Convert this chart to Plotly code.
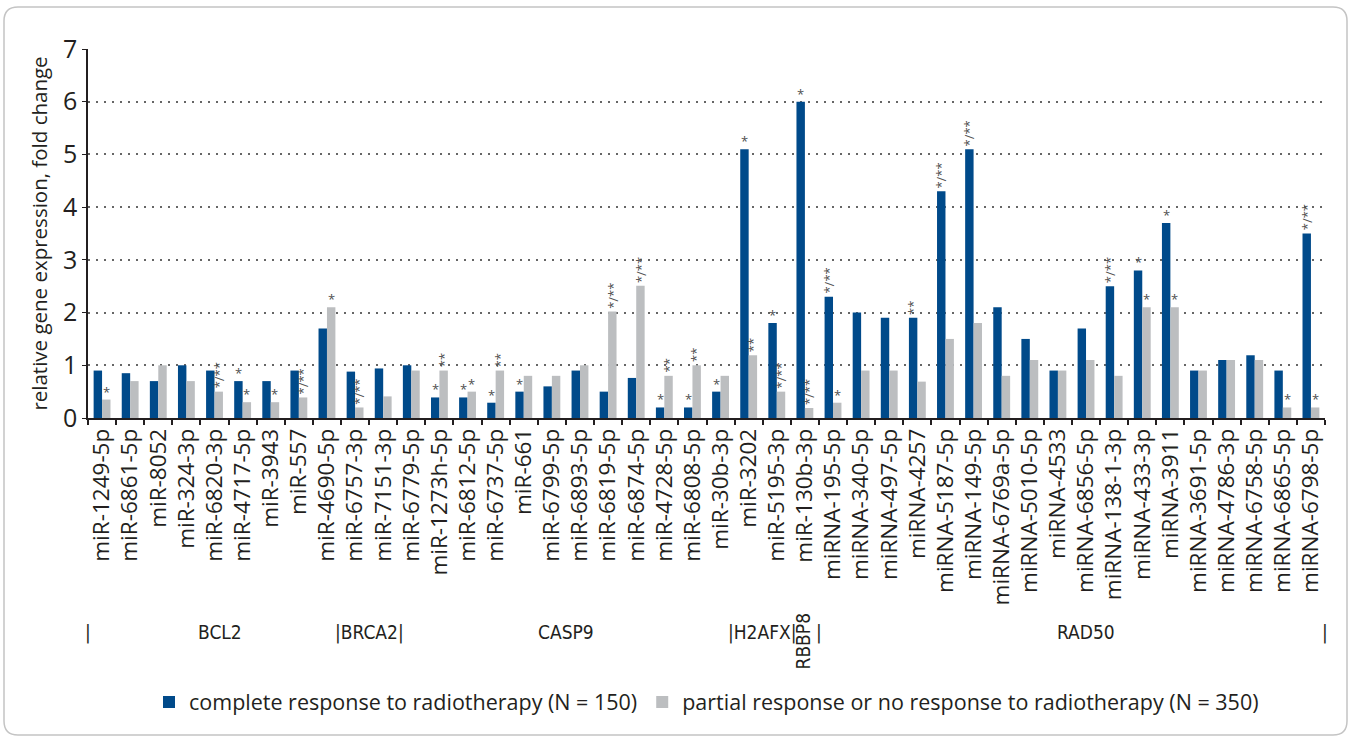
import plotly.graph_objects as go

# microRNAs, in plotting order (grouped by target gene)
mirnas = [
    "miR-1249-5p", "miR-6861-5p", "miR-8052", "miR-324-3p", "miR-6820-3p",
    "miR-4717-5p", "miR-3943", "miR-557", "miR-4690-5p", "miR-6757-3p",
    "miR-7151-3p", "miR-6779-5p", "miR-1273h-5p", "miR-6812-5p", "miR-6737-5p",
    "miR-661", "miR-6799-5p", "miR-6893-5p", "miR-6819-5p", "miR-6874-5p",
    "miR-4728-5p", "miR-6808-5p", "miR-30b-3p", "miR-3202", "miR-5195-3p",
    "miR-130b-3p", "miRNA-195-5p", "miRNA-340-5p", "miRNA-497-5p", "miRNA-4257",
    "miRNA-5187-5p", "miRNA-149-5p", "miRNA-6769a-5p", "miRNA-5010-5p", "miRNA-4533",
    "miRNA-6856-5p", "miRNA-138-1-3p", "miRNA-433-3p", "miRNA-3911", "miRNA-3691-5p",
    "miRNA-4786-3p", "miRNA-6758-5p", "miRNA-6865-5p", "miRNA-6798-5p",
]

# relative gene expression (fold change)
complete_resp = [
    0.9, 0.85, 0.7, 1.0, 0.9, 0.7, 0.7, 0.9, 1.7, 0.88,
    0.94, 1.0, 0.39, 0.39, 0.29, 0.5, 0.6, 0.9, 0.5, 0.76,
    0.2, 0.2, 0.5, 5.1, 1.8, 6.0, 2.3, 2.0, 1.9, 1.9,
    4.3, 5.1, 2.1, 1.5, 0.9, 1.7, 2.5, 2.8, 3.7, 0.9,
    1.1, 1.19, 0.9, 3.5,
]
partial_resp = [
    0.35, 0.7, 1.0, 0.7, 0.5, 0.3, 0.3, 0.39, 2.1, 0.2,
    0.41, 0.9, 0.9, 0.5, 0.9, 0.8, 0.8, 1.0, 2.02, 2.51,
    0.8, 1.0, 0.8, 1.19, 0.5, 0.19, 0.29, 0.9, 0.9, 0.69,
    1.5, 1.8, 0.8, 1.1, 0.9, 1.1, 0.8, 2.1, 2.1, 0.9,
    1.1, 1.1, 0.2, 0.2,
]

# significance marks: (microRNA, series, mark)
marks = [
    ("miR-1249-5p", "p", "*"),
    ("miR-6820-3p", "p", "*/**"),
    ("miR-4717-5p", "c", "*"), ("miR-4717-5p", "p", "*"),
    ("miR-3943", "p", "*"),
    ("miR-557", "p", "*/**"),
    ("miR-4690-5p", "p", "*"),
    ("miR-6757-3p", "p", "*/**"),
    ("miR-1273h-5p", "c", "*"), ("miR-1273h-5p", "p", "**"),
    ("miR-6812-5p", "c", "*"), ("miR-6812-5p", "p", "*"),
    ("miR-6737-5p", "c", "*"), ("miR-6737-5p", "p", "**"),
    ("miR-661", "c", "*"),
    ("miR-6819-5p", "p", "*/**"),
    ("miR-6874-5p", "p", "*/**"),
    ("miR-4728-5p", "c", "*"), ("miR-4728-5p", "p", "**"),
    ("miR-6808-5p", "c", "*"), ("miR-6808-5p", "p", "**"),
    ("miR-30b-3p", "c", "*"),
    ("miR-3202", "c", "*"), ("miR-3202", "p", "**"),
    ("miR-5195-3p", "c", "*"), ("miR-5195-3p", "p", "*/**"),
    ("miR-130b-3p", "c", "*"), ("miR-130b-3p", "p", "*/**"),
    ("miRNA-195-5p", "c", "*/**"), ("miRNA-195-5p", "p", "*"),
    ("miRNA-4257", "c", "**"),
    ("miRNA-5187-5p", "c", "*/**"),
    ("miRNA-149-5p", "c", "*/**"),
    ("miRNA-138-1-3p", "c", "*/**"),
    ("miRNA-433-3p", "c", "*"), ("miRNA-433-3p", "p", "*"),
    ("miRNA-3911", "c", "*"), ("miRNA-3911", "p", "*"),
    ("miRNA-6865-5p", "p", "*"),
    ("miRNA-6798-5p", "c", "*/**"), ("miRNA-6798-5p", "p", "*"),
]

# target-gene row: (text, position on the category axis, rotated)
gene_row = [
    ("|", -0.5, False),
    ("BCL2", 4.2, False),
    ("|BRCA2|", 9.5, False),
    ("CASP9", 16.5, False),
    ("|H2AFX|", 23.5, False),
    ("RBBP8", 24.95, True),
    ("|", 25.5, False),
    ("RAD50", 35.0, False),
    ("|", 43.5, False),
]

BLUE = "#004a8a"
GREY = "#bcbec0"
FONT = "Open Sans, Lato, sans-serif"
NARROW = "Liberation Sans Narrow, DejaVu Sans Condensed, sans-serif"
TXT = "#231f20"
MARK = "#505050"

BARGAP = 0.4
half = (1 - BARGAP) / 4  # centre offset of each bar within its group

# plot area in pixels (for placing paper-referenced decorations)
L, R, T, B = 88, 1325, 49, 418
def px(x):
    return (x - L) / (R - L)
def py(y):
    return (B - y) / (B - T)

fig = go.Figure()
fig.add_trace(go.Bar(x=mirnas, y=complete_resp, marker=dict(color=BLUE, line=dict(width=0)),
                     name="complete response to radiotherapy (N = 150)"))
fig.add_trace(go.Bar(x=mirnas, y=partial_resp, marker=dict(color=GREY, line=dict(width=0)),
                     name="partial response or no response to radiotherapy (N = 350)"))

annotations = []
for name, series, mark in marks:
    i = mirnas.index(name)
    val = complete_resp[i] if series == "c" else partial_resp[i]
    xpos = i - half if series == "c" else i + half
    rotated = len(mark) > 1
    annotations.append(dict(
        x=xpos, y=val, xref="x", yref="y", text=mark, showarrow=False,
        textangle=-90 if rotated else 0,
        xanchor="center", yanchor="bottom",
        yshift=1 if rotated else -3,
        font=dict(family=FONT, size=13, color=MARK),
    ))

# gene labels row under the tick labels
GY = py(632)
for text, pos, rot in gene_row:
    annotations.append(dict(
        x=pos, y=py(641) if rot else GY, xref="x", yref="paper", text=text,
        showarrow=False, textangle=-90 if rot else 0,
        xanchor="center", yanchor="middle",
        font=dict(family=NARROW, size=19, color=TXT)))

# rounded frame around the figure
x0, x1, y0, y1 = px(4), px(1347), py(7), py(735)
rx, ry = 14 / (R - L), 14 / (B - T)
frame = (f"M {x0+rx},{y0} L {x1-rx},{y0} Q {x1},{y0} {x1},{y0-ry} "
         f"L {x1},{y1+ry} Q {x1},{y1} {x1-rx},{y1} "
         f"L {x0+rx},{y1} Q {x0},{y1} {x0},{y1+ry} "
         f"L {x0},{y0-ry} Q {x0},{y0} {x0+rx},{y0} Z")

fig.update_layout(
    width=1352, height=738,
    margin=dict(l=L, r=1352 - R, t=T, b=738 - B),
    paper_bgcolor="white", plot_bgcolor="white",
    barmode="group", bargap=BARGAP, bargroupgap=0,
    font=dict(family=FONT, color=TXT),
    showlegend=True,
    legend=dict(orientation="h", x=0.5, xanchor="center", y=py(702), yanchor="middle",
                font=dict(family=FONT, size=21.5, color=TXT), bgcolor="rgba(0,0,0,0)"),
    annotations=annotations,
    shapes=[dict(type="path", path=frame, xref="paper", yref="paper",
                 line=dict(color="#c4c4c4", width=1.5), layer="below")],
    xaxis=dict(
        type="category", tickangle=-90, tickson="boundaries",
        ticks="outside", ticklen=5, tickwidth=1.5, tickcolor="#231f20",
        showline=True, linecolor="#231f20", linewidth=1.5,
        showgrid=False, tickfont=dict(family=FONT, size=22.5, color=TXT),
        range=[-0.5, len(mirnas) - 0.5],
    ),
    yaxis=dict(
        range=[0, 7], dtick=1, tick0=0,
        showline=True, linecolor="#231f20", linewidth=1.5,
        ticks="outside", ticklen=4, tickcolor="#231f20",
        showgrid=True, gridcolor="#666666", gridwidth=1.5, griddash="2px,6px",
        zeroline=False,
        tickfont=dict(family=FONT, size=25, color=TXT),
        title=dict(text="relative gene expression, fold change",
                   font=dict(family=FONT, size=20.5, color=TXT), standoff=10),
    ),
)

fig.write_html("out.html")
